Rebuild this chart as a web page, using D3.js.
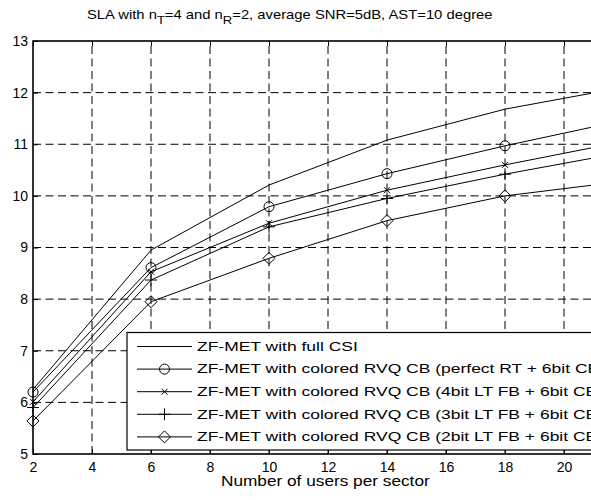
<!DOCTYPE html>
<html>
<head>
<meta charset="utf-8">
<script src="https://cdn.jsdelivr.net/npm/d3@7"></script>
<style>
  body { margin: 0; background: #fff; }
  svg { display: block; font-family: "Liberation Sans", Arial, sans-serif; }
</style>
</head>
<body>
<svg id="chart" width="591" height="500"></svg>
<script>
// values (last point at 22 lies past the cropped edge)
const users = [2, 6, 10, 14, 18, 22];
const fullCsi = [6.25, 8.95, 10.21, 11.08, 11.68, 12.1];
const perfectRt = [6.2, 8.61, 9.79, 10.43, 10.97, 11.46];
const lt4bit = [6.01, 8.53, 9.47, 10.11, 10.6, 11.05];
const lt3bit = [5.9, 8.37, 9.4, 9.95, 10.42, 10.84];
const lt2bit = [5.64, 7.95, 8.79, 9.52, 10.0, 10.28];

const seriesNames = [
  'ZF-MET with full CSI',
  'ZF-MET with colored RVQ CB (perfect RT + 6bit CB)',
  'ZF-MET with colored RVQ CB (4bit LT FB + 6bit CB)',
  'ZF-MET with colored RVQ CB (3bit LT FB + 6bit CB)',
  'ZF-MET with colored RVQ CB (2bit LT FB + 6bit CB)'
];
const seriesMarkers = ['none', 'circle', 'cross', 'plus', 'diamond'];
const seriesValues = [fullCsi, perfectRt, lt4bit, lt3bit, lt2bit];

const xTicks = [2, 4, 6, 8, 10, 12, 14, 16, 18, 20];
const yTicks = [5, 6, 7, 8, 9, 10, 11, 12, 13];

const svg = d3.select('#chart');
const pLeft = 33, pTop = 41, pRight = 623, pBottom = 454;

const x = d3.scaleLinear().domain([2, 22]).range([pLeft, pRight]);
const y = d3.scaleLinear().domain([5, 13]).range([pBottom, pTop]);

// stretch a text horizontally to a width
function stretch(t, x0, width) {
  const w = t.node().getComputedTextLength();
  const k = width / w;
  t.attr('transform', `translate(${x0},0) scale(${k},1) translate(${-x0},0)`);
}

// grid
const grid = svg.append('g').attr('stroke', '#000').attr('stroke-width', 1)
  .attr('stroke-dasharray', '8,4.5');
grid.selectAll('.gx').data(xTicks.slice(1)).enter().append('line')
  .attr('x1', d => x(d)).attr('x2', d => x(d))
  .attr('y1', pBottom).attr('y2', pTop);
grid.selectAll('.gy').data(yTicks.slice(1, -1)).enter().append('line')
  .attr('y1', d => y(d)).attr('y2', d => y(d))
  .attr('x1', pLeft).attr('x2', pRight);

function drawMarker(g, type, cx, cy) {
  let m = null;
  if (type === 'circle') {
    m = g.append('circle').attr('cx', cx).attr('cy', cy).attr('r', 5);
  } else if (type === 'cross') {
    const r = 3;
    m = g.append('path').attr('d', `M${cx - r},${cy - r}L${cx + r},${cy + r}M${cx - r},${cy + r}L${cx + r},${cy - r}`);
  } else if (type === 'plus') {
    const r = 6;
    m = g.append('path').attr('d', `M${cx - r},${cy}L${cx + r},${cy}M${cx},${cy - r}L${cx},${cy + r}`);
  } else if (type === 'diamond') {
    const r = 6;
    m = g.append('path').attr('d', `M${cx},${cy - r}L${cx + r},${cy}L${cx},${cy + r}L${cx - r},${cy}Z`);
  }
  if (m) m.attr('stroke', '#000').attr('stroke-width', 1).attr('fill', 'none');
}

// series
const line = d3.line().x((d, i) => x(users[i])).y(d => y(d));
const plot = svg.append('g');

seriesValues.forEach((vals, s) => {
  plot.append('path').datum(vals)
    .attr('d', line).attr('fill', 'none')
    .attr('stroke', '#000').attr('stroke-width', 1);
  vals.forEach((v, i) => drawMarker(plot, seriesMarkers[s], x(users[i]), y(v)));
});

// axes, ticks inside like matlab
const fs = 14;
const xAxis = svg.append('g').attr('transform', `translate(0,${pBottom})`)
  .call(d3.axisBottom(x).tickValues(xTicks).tickSize(-5).tickPadding(8).tickSizeOuter(0));
const xTop = svg.append('g').attr('transform', `translate(0,${pTop})`)
  .call(d3.axisTop(x).tickValues(xTicks).tickSize(-5).tickFormat('').tickSizeOuter(0));
const yAxis = svg.append('g').attr('transform', `translate(${pLeft},0)`)
  .call(d3.axisLeft(y).tickValues(yTicks).tickSize(-5).tickPadding(5).tickSizeOuter(0));
[xAxis, xTop, yAxis].forEach(a => {
  a.select('.domain').remove();
  a.selectAll('line').attr('stroke', '#000');
  a.selectAll('text').attr('font-size', fs).attr('fill', '#000')
    .attr('font-family', '"Liberation Sans", Arial, sans-serif');
});

// axes box
svg.append('rect').attr('x', pLeft).attr('y', pTop)
  .attr('width', pRight - pLeft).attr('height', pBottom - pTop)
  .attr('fill', 'none').attr('stroke', '#000').attr('stroke-width', 1.6);

// legend (runs past the cropped right edge, as in the picture)
const legTop = 332.5, legBottom = 450, legLeft = 127;
const leg = svg.append('g');
leg.append('rect').attr('x', legLeft).attr('y', legTop)
  .attr('width', 520).attr('height', legBottom - legTop)
  .attr('fill', '#fff').attr('stroke', '#000').attr('stroke-width', 1.2);

let legScale = 1;
seriesNames.forEach((name, i) => {
  const cy = 346.5 + i * 22.6;
  leg.append('line').attr('x1', 137).attr('x2', 192)
    .attr('y1', cy).attr('y2', cy).attr('stroke', '#000').attr('stroke-width', 1);
  drawMarker(leg, seriesMarkers[i], 164.5, cy);
  const t = leg.append('text').attr('x', 197).attr('y', cy + 4.3)
    .attr('font-size', 12).text(name);
  if (i === 0) {
    legScale = 161 / t.node().getComputedTextLength();
  }
  t.attr('transform', `translate(197,0) scale(${legScale},1) translate(-197,0)`);
});

// title
const title = svg.append('text').attr('x', 87).attr('y', 19).attr('font-size', 12.5);
title.append('tspan').text('SLA with n');
title.append('tspan').attr('dy', 5).attr('font-size', 11).text('T');
title.append('tspan').attr('dy', -5).text('=4 and n');
title.append('tspan').attr('dy', 5).attr('font-size', 11).text('R');
title.append('tspan').attr('dy', -5).text('=2, average SNR=5dB, AST=10 degree');
stretch(title, 87, 406);

// x label
const xl = svg.append('text').attr('x', 221).attr('y', 486).attr('font-size', 14)
  .text('Number of users per sector');
stretch(xl, 221, 209);
</script>
</body>
</html>
